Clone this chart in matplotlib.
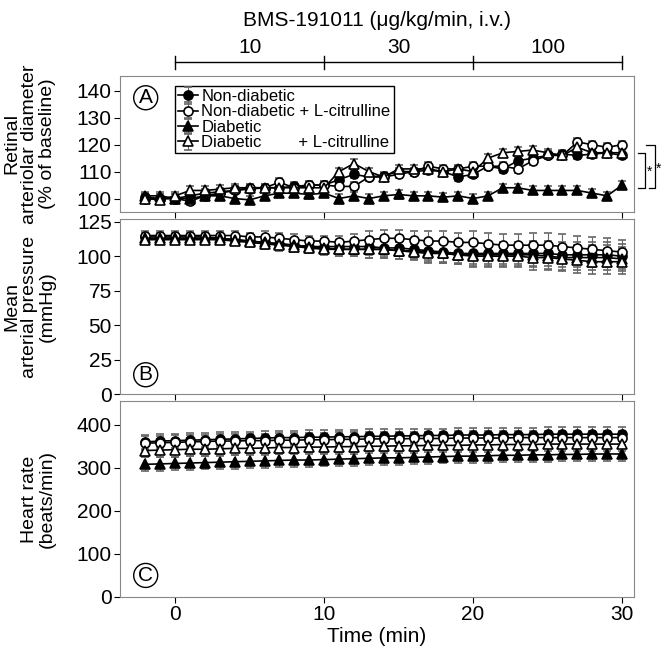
import matplotlib.pyplot as plt
import numpy as np

t = np.arange(-2, 31)

# panel A: retinal arteriolar diameter (% baseline)
a_nd = [100.5,100,100,101,102,102.5,103,103.5,104,104,104.5,105,105,107,109,108,108.5,110,110,110.5,110,108,109,112,111,114,115,116,116.5,116,116.5,117,116]
a_ndc = [100,100,100,99,101,102,103,104,104,106,104,105,105,104.5,104.5,108,108,109,110,112,111,111,112,112,112,111,114,116,116,121,120,119,120]
a_d = [101,101,100,100,101,101,100,99.5,101,102,102,101.5,102,100,101,100,101,101.5,101,101,100.5,101,100,101,104,104,103,103,103,103,102,101,105]
a_dc = [100,99.5,101,103,103,103.5,104,104,104,104,104,104,104,110,113,110,108,111,111,111,110,111,110,115,117,117.5,118,117,116,119,117,117,117]
a_err = [1.5]*33

# panel B: mean arterial pressure (mmHg)
b_nd = [114,114,114,114,114,113,112,111,110,109,108,107,107,107,107,107,106,106,105,104,103,102,102,102,102,102,102,102,101,101,101,101,100]
b_ndc = [115,115,115,115,115,115,115,114,114,113,112,111,111,110,111,112,113,113,112,111,111,110,110,109,108,108,108,108,107,106,105,104,103]
b_d = [113,113,113,113,113,113,112,111,110,109,108,107,106,105,105,105,105,104,104,103,102,101,101,101,101,101,101,100,99,99,99,99,98]
b_dc = [112,112,112,112,112,112,111,110,109,108,107,106,105,105,105,105,105,104,103,102,102,101,100,100,100,100,99,99,98,97,96,96,96]
b_err = [3,3,3,3,3,3,3,3,4,4,4,4,4,5,5,6,6,6,6,7,7,7,8,8,8,8,9,9,9,9,9,9,9]

# panel C: heart rate (beats/min)
c_nd = [360,362,363,364,365,366,367,368,369,370,370,371,371,372,372,373,373,374,374,375,375,376,376,376,377,377,377,378,378,378,378,378,378]
c_ndc = [357,358,359,360,361,362,362,363,363,364,364,365,365,366,366,367,367,367,368,368,368,369,369,369,369,370,370,370,370,370,370,370,370]
c_d = [308,309,310,311,312,313,314,315,316,317,318,318,319,320,321,322,323,323,324,325,326,327,327,328,329,329,330,330,331,331,332,332,332]
c_dc = [340,341,342,343,343,344,345,345,346,347,347,348,348,349,349,350,350,351,351,352,352,352,353,353,354,354,354,355,355,355,355,355,355]
c_err = [16]*33

labels = ['Non-diabetic', 'Non-diabetic + L-citrulline', 'Diabetic', 'Diabetic        + L-citrulline']
styles = [('o', 'black'), ('o', 'white'), ('^', 'black'), ('^', 'white')]

plt.rcParams['font.family'] = 'Liberation Sans'

fig = plt.figure(figsize=(6.62, 6.54), dpi=100)
W, H = 662., 654.
def box(x0, y0, x1, y1):
    return [x0/W, 1-y1/H, (x1-x0)/W, (y1-y0)/H]

axA = fig.add_axes(box(120, 76, 634, 212))
axB = fig.add_axes(box(120, 219, 634, 394))
axC = fig.add_axes(box(120, 401, 634, 597))

panels = [(axA, [a_nd, a_ndc, a_d, a_dc], a_err, (95, 145.5), [100,110,120,130,140], 'A'),
          (axB, [b_nd, b_ndc, b_d, b_dc], b_err, (0, 127), [0,25,50,75,100,125], 'B'),
          (axC, [c_nd, c_ndc, c_d, c_dc], c_err, (0, 455), [0,100,200,300,400], 'C')]

for ax, series, err, yl, yt, letter in panels:
    for k, (ys, (m, fc)) in enumerate(zip(series, styles)):
        ax.errorbar(t, ys, yerr=err, color='black', ecolor='#666666', elinewidth=0.8,
                    capsize=3, marker=m, mfc=fc, mec='black', ms=6.5, mew=1.2, lw=1.2,
                    label=labels[k])
    ax.set_xlim(-3.7, 30.8)
    ax.set_ylim(*yl)
    ax.set_yticks(yt)
    ax.set_xticks([0, 10, 20, 30])
    for s in ax.spines.values():
        s.set_color('#888888')
    ax.tick_params(labelsize=15, length=4, pad=2)
    ax.text(0.05, 0.84 if letter == 'A' else 0.11, letter, transform=ax.transAxes,
            ha='center', va='center', fontsize=15,
            bbox=dict(boxstyle='circle,pad=0.12', fc='white', ec='black'))

axA.tick_params(labelbottom=False)
axB.tick_params(labelbottom=False)
axC.set_xlabel('Time (min)', fontsize=15, labelpad=2)
axA.set_ylabel('Retinal\narteriolar diameter\n(% of baseline)', fontsize=14, linespacing=1.05)
axB.set_ylabel('Mean\narterial pressure\n(mmHg)', fontsize=14, linespacing=1.05)
axC.set_ylabel('Heart rate\n(beats/min)', fontsize=14, linespacing=1.05)
for ax in (axA, axB, axC):
    ax.yaxis.set_label_coords(-0.125, 0.5)

leg = axA.legend(loc='upper left', bbox_to_anchor=(0.09, 0.99), fontsize=12,
                 handlelength=1.2, handletextpad=0.2, labelspacing=0.02,
                 borderpad=0.2, fancybox=False, edgecolor='black', framealpha=1)
leg.get_frame().set_linewidth(1.0)

# dose bracket on top
yb = 1.1
xt = axA.get_xaxis_transform()
axA.plot([0, 30], [yb, yb], color='black', lw=1, transform=xt, clip_on=False)
for x in [0, 10, 20, 30]:
    axA.plot([x, x], [yb - 0.05, yb + 0.05], color='black', lw=1, transform=xt, clip_on=False)
for x, s in [(5, '10'), (15, '30'), (25, '100')]:
    axA.text(x, yb + 0.07, s, transform=xt, ha='center', fontsize=15)
fig.text(377/W, 1-20/H, 'BMS-191011 (\u03bcg/kg/min, i.v.)', ha='center', va='center', fontsize=15)

# significance brackets
tr = axA.get_yaxis_transform()
axA.plot([1.008, 1.022, 1.022, 1.008], [117, 117, 104, 104], color='black', lw=0.9, transform=tr, clip_on=False)
axA.plot([1.024, 1.04, 1.04, 1.03], [120, 120, 104, 104], color='black', lw=0.9, transform=tr, clip_on=False)
axA.text(1.031, 110, '*', transform=tr, fontsize=10, ha='center', va='center')
axA.text(1.047, 111, '*', transform=tr, fontsize=10, ha='center', va='center')

fig.savefig('out.png', dpi=100)
